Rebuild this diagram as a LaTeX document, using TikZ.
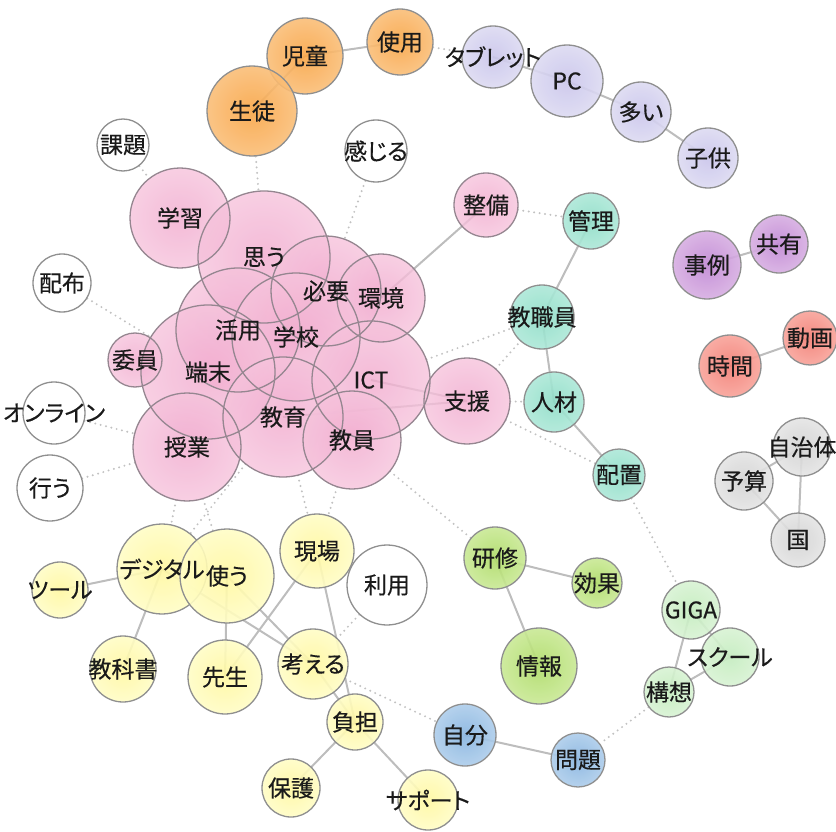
\documentclass[tikz,border=0pt]{standalone}
\usepackage{fontspec}
\newfontfamily\jp[RawFeature={+palt},FakeBold=0.35]{Noto Sans CJK JP}
\usetikzlibrary{backgrounds}
\definecolor{ringc}{HTML}{8F8F8F}
\definecolor{pinkline}{HTML}{958690}
\definecolor{txtc}{HTML}{1A1A1A}
\definecolor{tiec}{HTML}{BDBDBD}
\definecolor{weakc}{HTML}{C2C2C2}
\definecolor{pinkout}{HTML}{F6C3DC}
\definecolor{pinkin}{HTML}{F1A9CD}
\definecolor{orgout}{HTML}{FABE78}
\definecolor{orgin}{HTML}{F7A546}
\definecolor{lavout}{HTML}{DCDAF2}
\definecolor{lavin}{HTML}{C9C4EA}
\definecolor{teaout}{HTML}{ADE8D8}
\definecolor{teain}{HTML}{8EDCC6}
\definecolor{purout}{HTML}{D7AEE2}
\definecolor{purin}{HTML}{BF86D3}
\definecolor{redout}{HTML}{F8A39A}
\definecolor{redin}{HTML}{F27C72}
\definecolor{gryout}{HTML}{E4E4E4}
\definecolor{gryin}{HTML}{D2D2D2}
\definecolor{grnout}{HTML}{C9E995}
\definecolor{grnin}{HTML}{ADDA66}
\definecolor{lgrout}{HTML}{D8F3D3}
\definecolor{lgrin}{HTML}{C3EBBE}
\definecolor{bluout}{HTML}{ADCDEB}
\definecolor{bluin}{HTML}{86B3DF}
\definecolor{yelout}{HTML}{FFFDC6}
\definecolor{yelin}{HTML}{FFF7A0}
% pink cluster: name/x/y/diameter
\def\pinklist{gakushu/180/218/100, omou/264/257/132, hitsuyo/326/291/110,
  kankyo/381/298/88, katsuyo/238/330/124, gakko/296/337/128,
  tanmatsu/208/372/134, iin/135/360/54, ict/371/380/118, shien/467/401/86,
  kyoiku/283/417/120, kyoin/352/440/98, jugyo/187/447/108, seibi/486/205/64}
\begin{document}
\begin{tikzpicture}[x=1pt,y=-1pt,
  bub/.style={circle,draw=ringc,line width=1.3pt,inner sep=0pt,fill opacity=0.9},
  pinkb/.style={circle,inner sep=0pt,inner color=pinkin,outer color=pinkout,fill opacity=0.8},
  ring/.style={draw=pinkline,line width=1.3pt},
  orgb/.style={bub,inner color=orgin,outer color=orgout},
  lavb/.style={bub,inner color=lavin,outer color=lavout},
  teab/.style={bub,inner color=teain,outer color=teaout},
  purb/.style={bub,inner color=purin,outer color=purout},
  redb/.style={bub,inner color=redin,outer color=redout},
  gryb/.style={bub,inner color=gryin,outer color=gryout},
  grnb/.style={bub,inner color=grnin,outer color=grnout},
  lgrb/.style={bub,inner color=lgrin,outer color=lgrout},
  blub/.style={bub,inner color=bluin,outer color=bluout},
  yelb/.style={bub,inner color=yelin,outer color=yelout},
  whib/.style={bub,fill=white},
  word/.style={font=\jp\fontsize{23}{23}\selectfont,text=txtc,inner sep=0pt},
  tie/.style={draw=tiec,line width=2pt},
  weak/.style={draw=weakc,line width=2.2pt,line cap=round,dash pattern=on 0pt off 5.5pt}]
\useasboundingbox (0,0) rectangle (836,832);
% pink cluster, fills first and rings on top
\foreach \n/\x/\y/\d in \pinklist
  \node[pinkb,minimum size=\d pt] (\n) at (\x,\y) {};
\foreach \n/\x/\y/\d in \pinklist
  \draw[ring] (\n.center) circle (\d/2);
% orange
\node[orgb,minimum size=76pt] (jido) at (305,56) {};
\node[orgb,minimum size=66pt] (shiyo) at (400,42) {};
\node[orgb,minimum size=90pt] (seito) at (252,111) {};
% white
\node[whib,minimum size=52pt] (kadai) at (123,145) {};
\node[whib,minimum size=62pt] (kanjiru) at (376,151) {};
\node[whib,minimum size=58pt] (haifu) at (62,283) {};
\node[whib,minimum size=62pt] (online) at (54,413) {};
\node[whib,minimum size=66pt] (okonau) at (50,488) {};
\node[whib,minimum size=80pt] (riyo) at (387,585) {};
% lavender
\node[lavb,minimum size=62pt] (tablet) at (493,57) {};
\node[lavb,minimum size=72pt] (pc) at (567,81) {};
\node[lavb,minimum size=60pt] (oi) at (641,112) {};
\node[lavb,minimum size=60pt] (kodomo) at (708,158) {};
% teal
\node[teab,minimum size=56pt] (kanri) at (591,221) {};
\node[teab,minimum size=64pt] (kyoshokuin) at (542,317) {};
\node[teab,minimum size=60pt] (jinzai) at (554,402) {};
\node[teab,minimum size=52pt] (haichi) at (619,475) {};
% purple, red, grey
\node[purb,minimum size=68pt] (jirei) at (707,265) {};
\node[purb,minimum size=58pt] (kyoyu) at (779,244) {};
\node[redb,minimum size=62pt] (jikan) at (730,366) {};
\node[redb,minimum size=54pt] (doga) at (810,338) {};
\node[gryb,minimum size=58pt] (jichitai) at (802,447) {};
\node[gryb,minimum size=58pt] (yosan) at (744,481) {};
\node[gryb,minimum size=54pt] (kuni) at (798,540) {};
% green
\node[grnb,minimum size=62pt] (kenshu) at (495,558) {};
\node[grnb,minimum size=50pt] (koka) at (597,583) {};
\node[grnb,minimum size=76pt] (joho) at (539,666) {};
\node[lgrb,minimum size=58pt] (giga) at (691,610) {};
\node[lgrb,minimum size=58pt] (school) at (730,657) {};
\node[lgrb,minimum size=50pt] (koso) at (669,692) {};
% blue
\node[blub,minimum size=62pt] (jibun) at (465,735) {};
\node[blub,minimum size=54pt] (mondai) at (578,760) {};
% yellow
\node[yelb,minimum size=90pt] (digital) at (162,569) {};
\node[yelb,minimum size=94pt] (tsukau) at (227,576) {};
\node[yelb,minimum size=56pt] (tool) at (60,590) {};
\node[yelb,minimum size=66pt] (kyokasho) at (123,669) {};
\node[yelb,minimum size=74pt] (sensei) at (225,677) {};
\node[yelb,minimum size=74pt] (genba) at (317,551) {};
\node[yelb,minimum size=70pt] (kangaeru) at (313,664) {};
\node[yelb,minimum size=56pt] (futan) at (355,722) {};
\node[yelb,minimum size=58pt] (hogo) at (291,788) {};
\node[yelb,minimum size=60pt] (support) at (428,800) {};
% edges
\begin{pgfonlayer}{background}
\foreach \a/\b in {jido/shiyo,jido/seito,tablet/pc,pc/oi,oi/kodomo,seibi/kankyo,
  kanri/kyoshokuin,kyoshokuin/jinzai,jinzai/haichi,ict/shien,kyoiku/shien,
  jirei/kyoyu,jikan/doga,yosan/jichitai,yosan/kuni,jichitai/kuni,kenshu/koka,
  kenshu/joho,giga/school,giga/koso,school/koso,jibun/mondai,digital/tool,
  digital/kyokasho,tsukau/sensei,tsukau/kangaeru,digital/kangaeru,genba/sensei,
  genba/futan,kangaeru/futan,futan/hogo,futan/support}
  \draw[tie] (\a.center) -- (\b.center);
\foreach \a/\b in {shiyo/tablet,seito/omou,kanjiru/hitsuyo,kadai/gakushu,
  haifu/tanmatsu,online/jugyo,okonau/jugyo,jugyo/digital,jugyo/tsukau,
  kyoiku/digital,kyoiku/genba,kyoin/genba,kyoin/kenshu,shien/haichi,
  ict/kyoshokuin,shien/kyoshokuin,shien/jinzai,seibi/kanri,haichi/giga,
  koso/mondai,kangaeru/jibun,riyo/kangaeru}
  \draw[weak] (\a) -- (\b);
\end{pgfonlayer}
% words
\foreach \n/\w in {gakushu/学習,omou/思う,hitsuyo/必要,kankyo/環境,katsuyo/活用,
  gakko/学校,tanmatsu/端末,iin/委員,ict/ICT,shien/支援,kyoiku/教育,kyoin/教員,
  jugyo/授業,seibi/整備,jido/児童,shiyo/使用,seito/生徒,kadai/課題,kanjiru/感じる,
  haifu/配布,online/オンライン,okonau/行う,riyo/利用,tablet/タブレット,pc/PC,
  oi/多い,kodomo/子供,kanri/管理,kyoshokuin/教職員,jinzai/人材,haichi/配置,
  jirei/事例,kyoyu/共有,jikan/時間,doga/動画,jichitai/自治体,yosan/予算,kuni/国,
  kenshu/研修,koka/効果,joho/情報,giga/GIGA,school/スクール,koso/構想,
  jibun/自分,mondai/問題,digital/デジタル,tsukau/使う,tool/ツール,
  kyokasho/教科書,sensei/先生,genba/現場,kangaeru/考える,futan/負担,
  hogo/保護,support/サポート}
  \node[word] (\n-w) at (\n) {\w};
\end{tikzpicture}
\end{document}
